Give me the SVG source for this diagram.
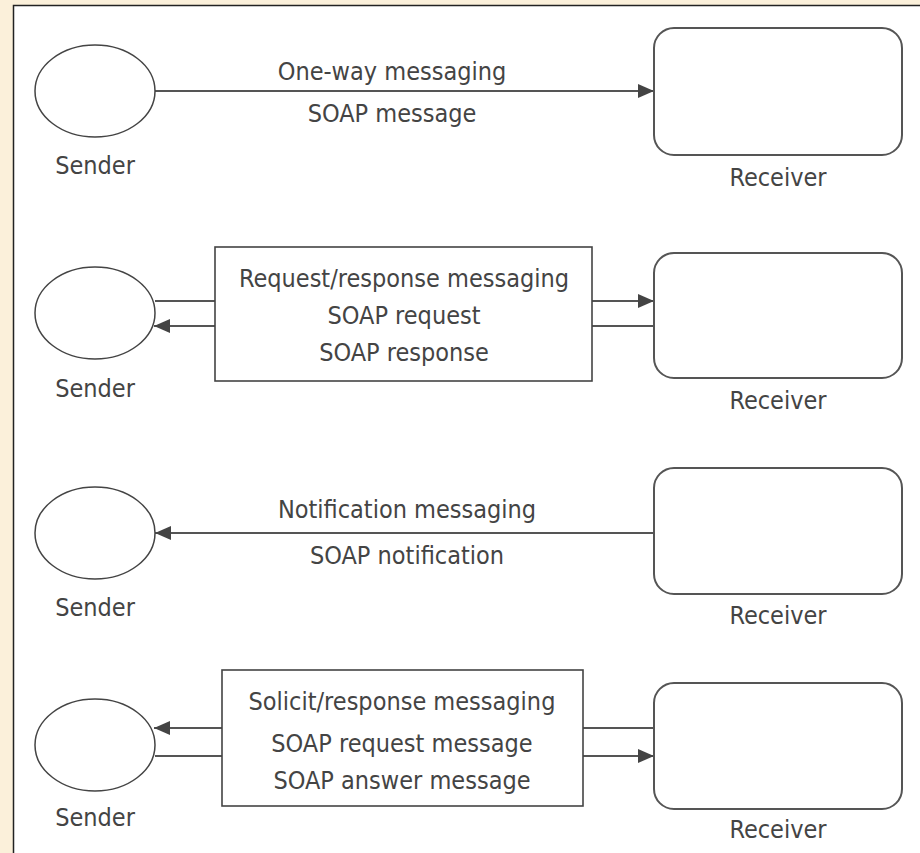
<svg xmlns="http://www.w3.org/2000/svg" width="920" height="853" viewBox="0 0 920 853">
<defs>
<marker id="ah" viewBox="0 0 16 14" refX="16" refY="7" markerWidth="16" markerHeight="14" markerUnits="userSpaceOnUse" orient="auto">
<path d="M0,0 L16,7 L0,14 Z" fill="#444"/>
</marker>
<style>
.t{font-family:"DejaVu Sans Condensed","DejaVu Sans","Liberation Sans",sans-serif;font-size:25px;fill:#444;text-anchor:middle}
.snd{fill:#fff;stroke:#444;stroke-width:1.5}
.rcv{fill:#fff;stroke:#555;stroke-width:2}
.box{fill:#fff;stroke:#444;stroke-width:1.6}
.ln{fill:none;stroke:#555;stroke-width:2}
.arr{marker-end:url(#ah)}
</style>
</defs>
<rect x="0" y="0" width="920" height="853" fill="#FBF0DA"/>
<rect x="13.5" y="5.5" width="910" height="850" fill="#fff"/>
<path d="M13.5,853 V5.5 H920" fill="none" stroke="#222" stroke-width="1.5"/>

<g id="connectors">
<line class="ln arr" x1="155" y1="91" x2="654" y2="91"/>
<line class="ln" x1="155" y1="301" x2="215" y2="301"/>
<line class="ln arr" x1="215" y1="326" x2="154" y2="326"/>
<line class="ln arr" x1="592" y1="301" x2="654" y2="301"/>
<line class="ln" x1="592" y1="326" x2="654" y2="326"/>
<line class="ln arr" x1="654" y1="533" x2="155" y2="533"/>
<line class="ln arr" x1="222" y1="728" x2="154" y2="728"/>
<line class="ln" x1="155" y1="756" x2="222" y2="756"/>
<line class="ln" x1="583" y1="728" x2="654" y2="728"/>
<line class="ln arr" x1="583" y1="756" x2="654" y2="756"/>
</g>

<g id="sender1"><ellipse class="snd" cx="95" cy="91" rx="60" ry="46"/><text class="t" x="95" y="174">Sender</text></g>
<g id="receiver1"><rect class="rcv" x="654" y="28" width="248" height="127" rx="20"/><text class="t" x="778" y="186">Receiver</text></g>
<g id="label1"><text class="t" x="392" y="80">One-way messaging</text><text class="t" x="392" y="122">SOAP message</text></g>

<g id="sender2"><ellipse class="snd" cx="95" cy="313" rx="60" ry="46"/><text class="t" x="95" y="397">Sender</text></g>
<g id="receiver2"><rect class="rcv" x="654" y="253" width="248" height="125" rx="20"/><text class="t" x="778" y="409">Receiver</text></g>
<g id="box2"><rect class="box" x="215" y="247" width="377" height="134"/>
<text class="t" x="404" y="287">Request/response messaging</text>
<text class="t" x="404" y="324">SOAP request</text>
<text class="t" x="404" y="361">SOAP response</text></g>

<g id="sender3"><ellipse class="snd" cx="95" cy="533" rx="60" ry="46"/><text class="t" x="95" y="616">Sender</text></g>
<g id="receiver3"><rect class="rcv" x="654" y="468" width="248" height="126" rx="20"/><text class="t" x="778" y="624">Receiver</text></g>
<g id="label3"><text class="t" x="407" y="518">Notification messaging</text><text class="t" x="407" y="564">SOAP notification</text></g>

<g id="sender4"><ellipse class="snd" cx="95" cy="745" rx="60" ry="46"/><text class="t" x="95" y="826">Sender</text></g>
<g id="receiver4"><rect class="rcv" x="654" y="683" width="248" height="126" rx="20"/><text class="t" x="778" y="838">Receiver</text></g>
<g id="box4"><rect class="box" x="222" y="670" width="361" height="136"/>
<text class="t" x="402" y="710">Solicit/response messaging</text>
<text class="t" x="402" y="752">SOAP request message</text>
<text class="t" x="402" y="789">SOAP answer message</text></g>
</svg>
